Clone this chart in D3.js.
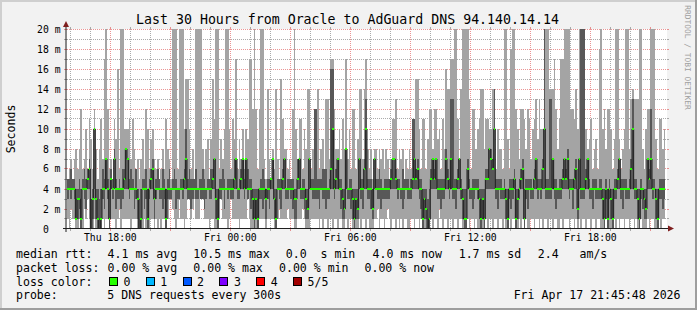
<!DOCTYPE html>
<html>
<head>
<meta charset="utf-8">
<script src="https://cdn.jsdelivr.net/npm/d3@7"></script>
<style>
	html, body { margin: 0; padding: 0; background: #ffffff; }
	svg text { font-family: "DejaVu Sans Mono", monospace; white-space: pre; }
</style>
</head>
<body>
<div id="chart-container"></div>
<script>
// Graph time range: last 30 hours, one sample every 300 s (5 pings each)
const startTime = new Date(2026, 3, 16, 15, 50, 0);
const endTime = new Date(2026, 3, 17, 21, 50, 0);
const stepSeconds = 300;

// Sorted ping times per sample, in ms (values above 20 are clipped by the graph)
const minMs = [
	1,0,2,1,1,0,0,1,0,0, 2,1,3,1,0,0,1,0,0,0, 0,1,0,1,1,0,1,1,1,0,
	1,2,0,1,1,1,1,1,0,1, 1,1,0,0,0,0,1,0,0,0, 1,1,0,1,0,1,0,1,1,0,
	1,3,3,2,1,0,1,3,1,1, 0,1,3,3,1,2,3,1,1,1, 3,3,1,1,1,0,1,1,0,0,
	0,1,3,1,1,1,0,1,3,1, 1,1,1,0,1,1,1,1,3,1, 0,0,0,0,0,1,1,1,1,0,
	1,1,1,1,0,0,1,2,1,1, 1,1,2,1,1,1,0,0,1,1, 1,2,1,0,0,0,1,1,1,1,
	1,0,1,0,1,1,0,1,1,0, 1,1,0,1,1,0,0,1,0,1, 1,0,0,0,0,1,0,1,1,0,
	1,0,0,0,1,1,2,0,1,1, 0,1,2,1,0,1,1,0,1,0, 1,0,1,1,0,0,1,1,0,1,
	1,0,1,0,0,0,0,0,1,0, 1,1,0,2,1,0,1,1,0,1, 1,0,1,1,0,1,1,0,0,0,
	1,0,1,1,0,1,0,0,0,0, 0,1,0,1,1,0,1,1,0,1, 1,0,1,0,0,1,0,1,1,0,
	0,1,0,1,0,1,0,0,1,1, 0,1,1,0,1,0,1,1,0,1, 1,0,1,1,0,0,1,0,1,1,
	1,0,1,1,0,1,0,1,0,1, 1,0,1,1,0,1,1,0,1,1, 0,0,0,1,0,0,0,0,1,0,
	1,0,1,1,0,1,1,0,1,1, 0,1,0,0,1,0,0,0,1,0, 1,1,0,0,0,1,0,1,1,null,
];
const loMs = [
	3,4,3,4,3,1,1,2,0,4, 3,2,4,4,0,1,4,1,0,0, 0,3,2,4,3,0,4,3,4,2,
	3,3,2,3,4,4,4,3,4,4, 2,3,1,0,0,4,2,3,0,3, 4,4,1,3,4,3,3,2,3,0,
	3,3,3,4,4,2,3,3,4,3, 4,4,3,3,2,3,4,3,3,4, 3,3,2,3,4,3,3,4,4,1,
	0,3,3,4,2,4,3,4,3,3, 4,4,3,3,4,4,3,4,3,4, 2,1,0,1,0,3,3,2,3,1,
	3,2,4,4,1,0,4,3,2,4, 4,3,3,4,3,2,1,1,4,4, 3,3,2,1,1,4,4,3,3,3,
	3,2,4,3,3,2,3,3,4,4, 3,4,4,4,2,1,1,4,3,3, 2,1,0,1,1,4,3,2,4,4,
	3,3,2,1,4,4,3,3,2,3, 3,3,3,3,4,4,4,4,3,4, 3,2,3,4,3,3,3,4,4,4,
	4,3,2,0,1,1,0,0,4,4, 4,4,3,3,2,3,3,4,4,3, 4,3,3,2,4,4,3,1,0,0,
	4,3,3,2,3,4,3,1,0,1, 0,4,4,4,4,4,4,3,2,4, 3,3,3,1,0,3,2,3,4,0,
	1,3,4,4,0,3,2,4,3,3, 4,4,3,4,3,4,4,3,3,3, 3,4,3,2,3,3,3,4,4,4,
	4,3,4,2,4,4,1,4,3,3, 3,4,4,3,3,2,4,3,3,3, 3,1,0,3,0,3,1,0,3,3,
	4,4,3,2,4,3,3,3,4,4, 3,3,1,0,3,2,1,1,4,4, 4,3,4,1,0,3,3,2,3,null,
];
const medianMs = [
	4,4,4,4,4,1,3,3,1,4, 4,4,5,6,0,3,10,3,1,0, 1,4,4,7,4,1,5,4,7,4,
	4,4,4,4,5,8,7,4,4,4, 4,4,3,0,1,4,4,4,1,4, 5,6,3,4,4,4,4,4,4,1,
	4,4,4,4,4,4,4,4,4,4, 5,7,4,4,4,4,4,4,4,4, 4,4,4,4,4,4,4,5,7,3,
	1,4,4,4,4,4,4,4,4,4, 5,7,4,4,5,7,4,7,4,4, 4,3,1,3,1,4,4,4,4,3,
	4,4,5,7,3,1,4,4,4,5, 7,4,4,4,4,4,3,3,5,7, 4,4,4,3,2,7,4,4,4,4,
	4,4,4,4,4,4,4,4,6,10, 4,5,7,4,4,3,2,8,4,4, 4,3,1,3,2,7,4,4,6,10,
	4,4,4,2,7,4,4,4,4,4, 4,4,4,4,5,7,7,5,4,4, 4,4,4,4,4,4,4,5,7,5,
	6,4,4,1,3,2,0,1,5,7, 5,7,4,4,4,4,4,7,5,4, 7,4,4,4,5,7,4,3,1,1,
	6,4,4,4,4,4,4,3,1,3, 1,5,5,8,7,6,10,4,4,4, 4,4,4,3,1,4,4,4,5,1,
	3,4,5,6,1,4,4,4,4,4, 5,7,4,4,4,6,10,4,4,4, 4,7,4,4,4,4,4,5,7,5,
	7,4,4,4,5,6,2,7,4,4, 4,5,7,4,4,4,4,4,4,4, 4,3,1,4,1,4,3,1,4,4,
	5,7,4,4,4,4,4,4,6,10, 4,4,3,1,4,4,3,2,7,5, 7,4,4,3,1,4,4,4,4,null,
];
const hiMs = [
	5,5,6,5,5,4,4,5,4,5, 6,5,6,7,3,4,10,4,4,3, 4,6,5,7,5,4,6,4,8,5,
	4,5,4,6,6,8,7,5,6,5, 4,6,4,3,4,5,5,6,4,5, 6,7,4,5,6,5,4,6,5,4,
	5,6,4,5,6,5,4,4,5,5, 6,10,5,6,5,5,5,6,4,5, 5,6,5,4,5,5,6,6,7,4,
	4,5,5,6,5,4,5,5,5,5, 7,7,4,5,6,7,5,7,6,5, 5,4,4,4,4,4,5,6,5,4,
	5,5,5,7,4,4,5,5,5,6, 7,4,5,5,5,5,4,4,7,7, 4,5,5,4,4,7,5,5,12,12,
	5,5,5,6,6,6,4,5,16,16, 5,6,7,5,5,4,4,8,4,5, 5,4,4,4,4,7,5,5,7,13,
	5,5,5,4,7,5,5,6,5,4, 5,5,5,5,6,7,7,6,5,5, 4,6,5,5,5,4,5,11,11,6,
	7,5,5,4,4,4,3,4,6,7, 6,7,5,5,5,5,5,8,6,5, 13,13,5,5,6,7,5,4,4,4,
	7,5,4,5,5,5,5,4,4,4, 4,6,6,8,8,7,14,5,5,5, 5,4,5,4,4,5,5,5,6,4,
	4,5,6,7,4,5,5,5,5,4, 6,7,5,5,5,7,25,5,5,13, 13,7,5,5,4,5,5,6,7,6,
	8,5,5,5,6,7,4,7,25,25, 25,6,7,5,4,5,5,5,4,5, 5,4,4,5,4,5,4,4,5,5,
	6,7,5,5,5,5,4,5,7,13, 5,5,4,4,5,4,4,4,7,6, 12,5,5,4,4,5,5,5,5,null,
];
const maxMs = [
	5,6,7,5,7,8,6,8,12,6, 7,10,6,11,9,6,12,8,5,8, 11,7,17,25,12,6,7,5,11,9,
	16,6,25,25,10,10,10,11,7,11, 8,6,7,5,7,9,6,12,10,6, 9,10,7,6,7,5,6,8,6,11,
	8,7,5,25,25,25,6,25,25,25, 10,15,15,10,6,8,5,25,25,25, 25,8,6,8,9,5,9,15,11,25,
	25,6,9,7,10,25,25,10,6,11, 9,17,6,9,7,10,6,10,9,17, 17,12,25,12,6,12,25,25,7,5,
	14,7,5,8,6,14,7,5,15,11, 8,8,6,7,5,12,25,10,7,11, 11,6,10,8,14,14,6,8,12,12,
	14,6,8,9,6,13,13,7,17,17, 12,8,8,10,7,11,8,17,7,10, 6,12,12,6,9,14,14,7,14,17,
	8,6,8,5,8,8,6,8,7,8, 6,8,7,5,7,11,11,13,6,8, 7,8,5,7,6,8,6,11,11,15,
	15,10,6,11,11,6,9,12,12,8, 12,12,9,10,6,11,8,16,14,14, 17,17,25,25,11,7,14,25,25,25,
	25,13,6,12,12,8,10,11,14,14, 8,11,11,10,10,14,14,6,10,8, 8,6,25,25,9,6,18,25,25,12,
	10,7,12,12,11,8,12,11,7,10, 11,13,9,13,10,10,25,25,25,14, 14,14,17,12,8,11,17,17,25,25,
	25,25,12,12,11,14,10,25,25,25, 25,10,8,9,11,6,8,9,6,18, 25,10,12,8,12,12,10,6,9,25,
	25,9,6,8,10,25,25,8,13,14, 13,13,13,25,25,8,6,10,12,12, 25,25,25,9,6,11,11,8,10,null,
];

// Legend texts
const titleText = "Last 30 Hours from Oracle to AdGuard DNS 94.140.14.14";
const medianStats = ["4.1 ms avg", "10.5 ms max", "0.0  s min", "4.0 ms now", "1.7 ms sd", "2.4   am/s"];
const lossStats = ["0.00 % avg", "0.00 % max", "0.00 % min", "0.00 % now"];
const lossLabels = ["0", "1", "2", "3", "4", "5/5"];
const lossColors = ["#26ff00", "#00b8ff", "#0059ff", "#7e00ff", "#ff0000", "#a10000"];
const probeText = "5 DNS requests every 300s";
const stampText = "Fri Apr 17 21:45:48 2026";
const yTicks = [0, 2, 4, 6, 8, 10, 12, 14, 16, 18, 20];

function drawChart() {
	const W = 697, H = 310;
	const left = 67, right = 667, top = 29, bottom = 229;

	const svg = d3
		.select("#chart-container")
		.append("svg")
		.attr("width", W)
		.attr("height", H);

	// Background and shaded frame
	svg.append("rect").attr("width", W).attr("height", H).attr("fill", "#f2f2f2");
	svg.append("rect").attr("x", 0).attr("y", 0).attr("width", W).attr("height", 2).attr("fill", "#cfcfcf");
	svg.append("rect").attr("x", 0).attr("y", 0).attr("width", 2).attr("height", H).attr("fill", "#cfcfcf");
	svg.append("rect").attr("x", 0).attr("y", H - 2).attr("width", W).attr("height", 2).attr("fill", "#9e9e9e");
	svg.append("rect").attr("x", W - 2).attr("y", 0).attr("width", 2).attr("height", H).attr("fill", "#9e9e9e");

	// Canvas
	svg.append("rect")
		.attr("x", left).attr("y", top)
		.attr("width", right - left).attr("height", bottom - top)
		.attr("fill", "#ffffff");

	// Scales
	const x = d3.scaleTime().domain([startTime, endTime]).range([left, right]);
	const y = d3.scaleLinear().domain([0, 20]).range([bottom, top]);
	const px = (v) => Math.floor(v) + 0.5;

	const gridColor = "rgba(143,143,143,0.75)";
	const mgridColor = "rgba(222,79,79,0.6)";

	// Horizontal grid: minor every 1 ms, major every 2 ms
	const grid = svg.append("g");
	d3.range(1, 21).forEach((v) => {
		const major = v % 2 === 0;
		const yy = px(y(v));
		const c = major ? mgridColor : gridColor;
		grid.append("line")
			.attr("x1", left).attr("x2", right).attr("y1", yy).attr("y2", yy)
			.attr("stroke", c).attr("stroke-dasharray", "1,1");
		grid.append("line").attr("x1", left - 3).attr("x2", left).attr("y1", yy).attr("y2", yy).attr("stroke", c);
		grid.append("line").attr("x1", right).attr("x2", right + 2).attr("y1", yy).attr("y2", yy).attr("stroke", c);
	});

	// Vertical grid: minor every hour, major every 3 hours
	const hours = d3.timeHour.range(startTime, endTime);
	hours.forEach((t) => {
		const major = t.getHours() % 3 === 0;
		const xx = px(x(t));
		const c = major ? mgridColor : gridColor;
		grid.append("line")
			.attr("x1", xx).attr("x2", xx).attr("y1", top).attr("y2", bottom)
			.attr("stroke", c).attr("stroke-dasharray", "1,1");
		grid.append("line").attr("x1", xx).attr("x2", xx).attr("y1", bottom).attr("y2", bottom + 2).attr("stroke", c);
		grid.append("line").attr("x1", xx).attr("x2", xx).attr("y1", top - 2).attr("y2", top).attr("stroke", c);
	});

	// Samples
	const samples = medianMs
		.map((m, i) => ({
			t0: d3.timeSecond.offset(startTime, i * stepSeconds),
			t1: d3.timeSecond.offset(startTime, (i + 1) * stepSeconds),
			min: minMs[i], lo: loMs[i], med: m, hi: hiMs[i], max: maxMs[i],
		}))
		.filter((d) => d.med !== null);

	svg.append("clipPath").attr("id", "canvas-clip")
		.append("rect").attr("x", left).attr("y", top)
		.attr("width", right - left).attr("height", bottom - top);

	const plot = svg.append("g").attr("clip-path", "url(#canvas-clip)");

	// Smoke: outer band (min..max), inner band (2nd..4th ping)
	plot.append("g").selectAll("rect")
		.data(samples).enter().append("rect")
		.attr("x", (d) => x(d.t0))
		.attr("width", (d) => x(d.t1) - x(d.t0))
		.attr("y", (d) => y(d.max))
		.attr("height", (d) => y(d.min) - y(d.max))
		.attr("fill", "#a4a4a4")
		.attr("shape-rendering", "crispEdges");

	plot.append("g").selectAll("rect")
		.data(samples).enter().append("rect")
		.attr("x", (d) => x(d.t0))
		.attr("width", (d) => x(d.t1) - x(d.t0))
		.attr("y", (d) => y(d.hi))
		.attr("height", (d) => y(d.lo) - y(d.hi))
		.attr("fill", "#585858")
		.attr("shape-rendering", "crispEdges");

	// Median step line
	const last = samples[samples.length - 1];
	const pts = samples.map((d) => [x(d.t0), y(d.med)]).concat([[x(last.t1), y(last.med)]]);
	plot.append("path")
		.attr("d", d3.line().curve(d3.curveStepAfter)(pts))
		.attr("fill", "none")
		.attr("stroke", "#202020")
		.attr("stroke-width", 1);

	// Median marks coloured by loss (all 0 here)
	plot.append("g").selectAll("rect")
		.data(samples).enter().append("rect")
		.attr("x", (d) => x(d.t0))
		.attr("width", (d) => x(d.t1) - x(d.t0))
		.attr("y", (d) => y(d.med) - 1)
		.attr("height", 2)
		.attr("fill", lossColors[0])
		.attr("shape-rendering", "crispEdges");

	// Axes and arrows
	const axisColor = "#1f1f1f";
	svg.append("line").attr("x1", left - 4).attr("x2", right + 3).attr("y1", bottom - 0.5).attr("y2", bottom - 0.5)
		.attr("stroke", axisColor);
	svg.append("line").attr("x1", left - 1).attr("x2", left - 1).attr("y1", bottom + 3).attr("y2", top - 4)
		.attr("stroke", axisColor);
	svg.append("path").attr("d", `M${right + 1},${bottom - 3.5}L${right + 7},${bottom - 0.5}L${right + 1},${bottom + 2.5}Z`)
		.attr("fill", "#7f1f1f");
	svg.append("path").attr("d", `M${left - 4},${top - 2}L${left - 1},${top - 8}L${left + 2},${top - 2}Z`)
		.attr("fill", "#7f1f1f");

	// Y tick labels
	svg.append("g").selectAll("text")
		.data(yTicks).enter().append("text")
		.attr("x", (d) => (d === 0 ? 42.9 : 60.5))
		.attr("y", (d) => px(y(d)) + 3.5)
		.attr("text-anchor", (d) => (d === 0 ? "start" : "end"))
		.attr("font-size", "9.75px")
		.attr("fill", "#000")
		.text((d) => (d === 0 ? "0" : d + " m"));

	// X tick labels every 6 hours
	const fmt = d3.timeFormat("%a %H:%M");
	svg.append("g").selectAll("text")
		.data(hours.filter((t) => t.getHours() % 6 === 0)).enter().append("text")
		.attr("x", (d) => x(d))
		.attr("y", 241)
		.attr("text-anchor", "middle")
		.attr("font-size", "9.75px")
		.attr("fill", "#000")
		.text(fmt);

	// Title, y label, watermark
	svg.append("text").attr("x", 347.5).attr("y", 24).attr("text-anchor", "middle")
		.attr("font-size", "13.25px").attr("fill", "#000").text(titleText);
	svg.append("text").attr("transform", "translate(15,129) rotate(-90)").attr("text-anchor", "middle")
		.attr("font-size", "11.55px").attr("fill", "#000").text("Seconds");
	svg.append("text").attr("transform", "translate(685,57.5) rotate(90)").attr("text-anchor", "middle")
		.attr("font-size", "7.9px").attr("fill", "#a0a0a0").text("RRDTOOL / TOBI OETIKER");

	// Legend
	const lg = svg.append("g").attr("font-size", "11.55px").attr("fill", "#000");
	const rowY = [258.3, 272, 285.7, 299.4];
	const medX = [107.6, 193.3, 285.8, 372.5, 458.7, 537.8];
	const lossX = [107.6, 193.3, 279, 364.5];
	lg.append("text").attr("x", 16).attr("y", rowY[0]).text("median rtt:");
	medianStats.forEach((s, i) => lg.append("text").attr("x", medX[i]).attr("y", rowY[0]).text(s));
	lg.append("text").attr("x", 16).attr("y", rowY[1]).text("packet loss:");
	lossStats.forEach((s, i) => lg.append("text").attr("x", lossX[i]).attr("y", rowY[1]).text(s));
	lg.append("text").attr("x", 16).attr("y", rowY[2]).text("loss color:");
	lossLabels.forEach((s, i) => {
		const bx = 109 + i * 36.8;
		lg.append("rect").attr("x", Math.round(bx) + 0.5).attr("y", 277.5).attr("width", 8).attr("height", 8)
			.attr("fill", lossColors[i]).attr("stroke", "#000");
		lg.append("text").attr("x", bx + 14.5).attr("y", rowY[2]).text(s);
	});
	lg.append("text").attr("x", 16).attr("y", rowY[3]).text("probe:");
	lg.append("text").attr("x", 107.3).attr("y", rowY[3]).text(probeText);
	lg.append("text").attr("x", 680.5).attr("y", rowY[3]).attr("text-anchor", "end").text(stampText);
}

document.addEventListener("DOMContentLoaded", () => {
	try {
		drawChart();
	} catch (error) {
		console.error("Error drawing chart:", error);
	}
});
</script>
</body>
</html>
